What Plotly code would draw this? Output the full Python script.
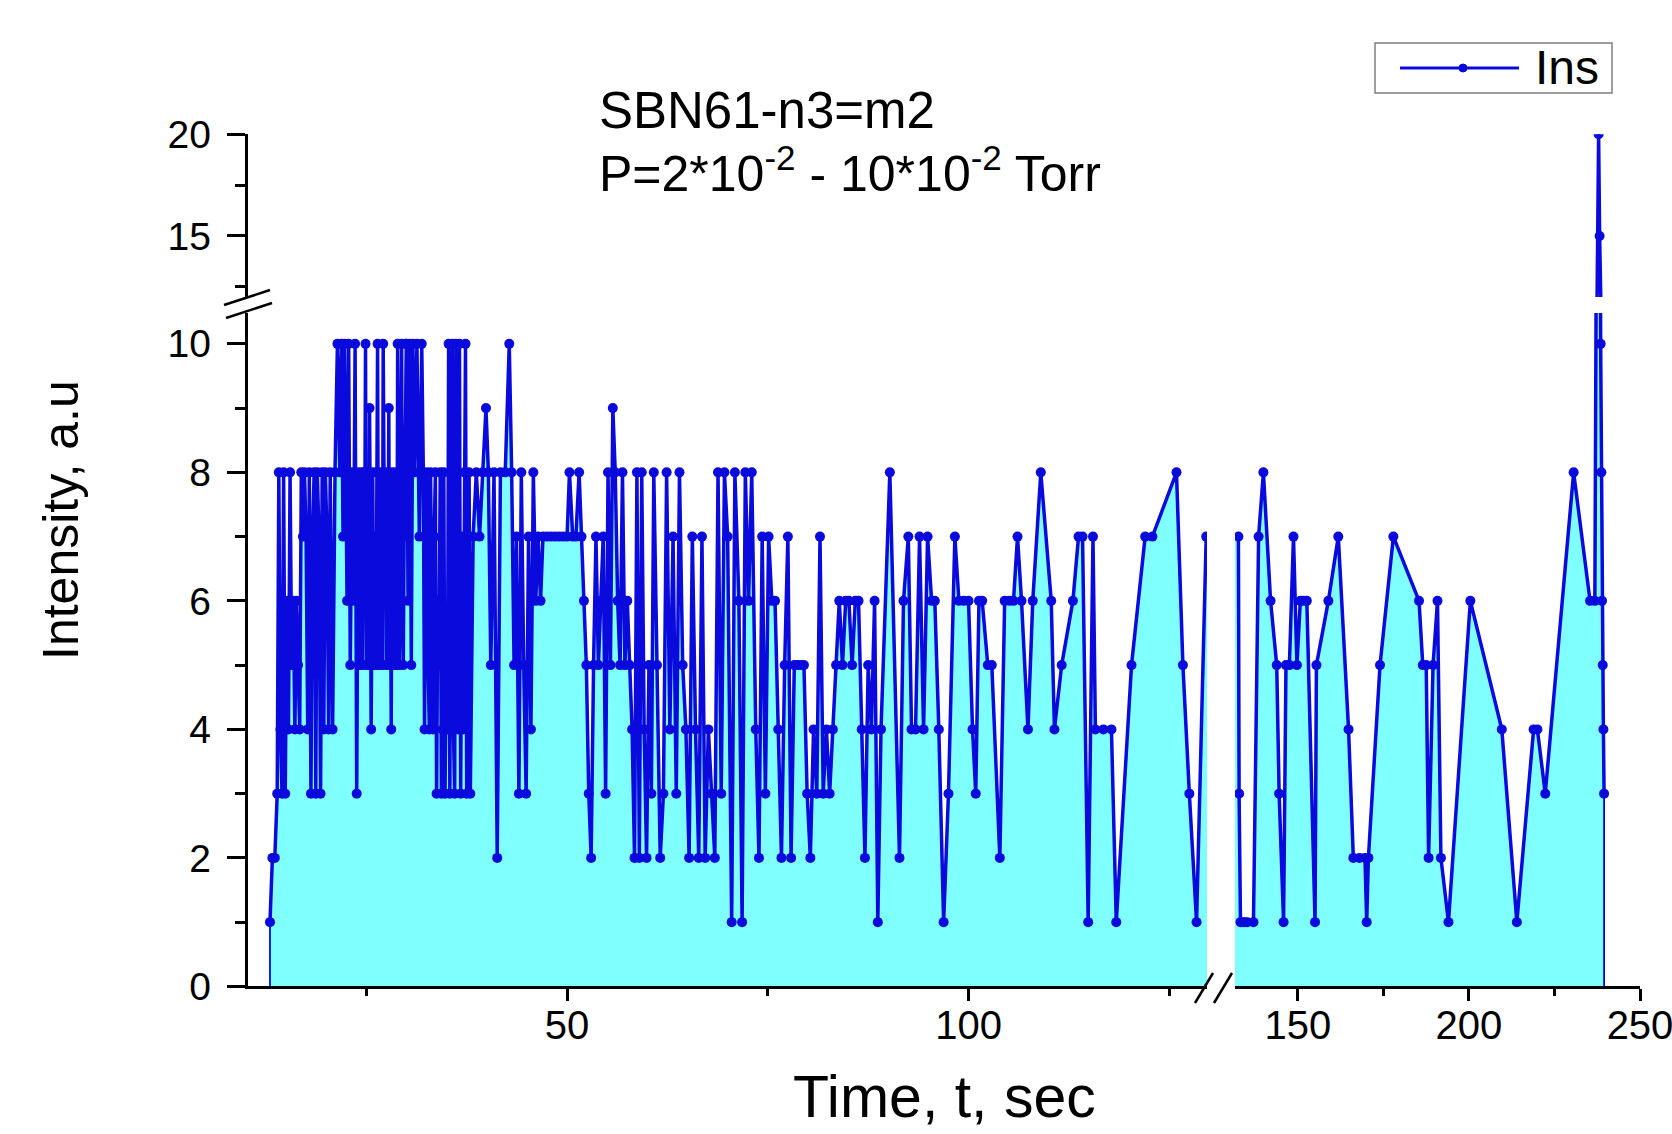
import plotly.graph_objects as go

# ---------------- data ----------------
time_left = [
    13.0, 13.3, 13.6, 13.9, 14.1, 14.3, 14.5, 14.7, 14.9, 15.1, 15.3, 15.5, 15.7, 15.9, 16.1, 16.3,
    16.5, 16.7, 16.9, 17.1, 17.3, 17.5, 17.7, 17.9, 18.1, 18.3, 18.5, 18.7, 18.9, 19.1, 19.3, 19.5,
    19.7, 19.9, 20.1, 20.3, 20.5, 20.8, 21.1, 21.4, 21.7, 21.9, 22.1, 22.3, 22.6, 22.8, 23.0, 23.2,
    23.4, 23.6, 23.8,
    24.0, 24.1, 24.2, 24.3, 24.4, 24.5, 24.6, 24.7, 24.8, 24.9,
    25.0, 25.1, 25.2, 25.3, 25.4, 25.5, 25.6, 25.7, 25.8, 25.9,
    26.0, 26.1, 26.2, 26.3, 26.4, 26.5, 26.6, 26.7, 26.8, 26.9,
    27.0, 27.1, 27.2, 27.3, 27.4, 27.5, 27.6, 27.7, 27.8, 27.9,
    28.0, 28.1, 28.2, 28.3, 28.4, 28.5, 28.6, 28.7, 28.8, 28.9,
    29.0, 29.1, 29.2, 29.3, 29.4, 29.5, 29.6, 29.7, 29.8, 29.9,
    30.0, 30.2, 30.4, 30.6, 30.8, 31.0, 31.3, 31.6, 31.9,
    32.1, 32.25, 32.4, 32.55, 32.7, 32.85, 33.0, 33.15, 33.3, 33.45,
    33.6, 33.75, 33.9, 34.05, 34.2, 34.35, 34.5, 34.65, 34.8, 34.95,
    35.1, 35.25, 35.4, 35.55, 35.7, 35.85, 36.0, 36.15, 36.3, 36.45,
    36.6, 36.75, 36.9, 37.05, 37.2, 37.35, 37.5, 37.65, 37.8, 37.95,
    38.3, 38.7, 39.1, 39.5, 39.9, 40.2, 40.5, 40.9, 41.3, 41.7, 42.3, 42.8, 43.1, 43.4, 43.7, 44.0,
    44.3, 44.6, 44.9, 45.2, 45.5, 45.8, 46.1, 46.4, 46.7, 47.0, 47.5, 48.0, 48.5, 49.0, 49.5,
    50.0, 50.3, 50.7, 51.1, 51.5, 51.8, 52.1, 52.4, 52.7, 53.0, 53.3, 53.6, 53.9, 54.2, 54.5, 54.8,
    55.1, 55.4, 55.7, 56.0, 56.3, 56.6, 56.9, 57.2, 57.5, 57.8, 58.1, 58.4, 58.7, 59.0, 59.3, 59.6,
    59.9, 60.2, 60.5, 60.8, 61.2, 61.6, 62.0, 62.4, 62.8, 63.2, 63.6, 64.0, 64.4, 64.8, 65.2, 65.6,
    66.0, 66.4, 66.8, 67.2, 67.6, 68.0, 68.4, 68.8, 69.2, 69.6,
    70.0, 70.5, 70.9, 71.4, 71.8, 72.2, 72.6, 73.0, 73.5, 73.9, 74.3, 74.7, 75.1, 75.5, 75.9, 76.3,
    76.7, 77.1, 77.5, 77.9, 78.3, 78.7, 79.1, 79.5, 79.9, 80.3, 80.7, 81.1, 81.5, 81.9, 82.3, 82.7,
    83.1, 83.5, 83.9, 84.3, 84.7, 85.1, 85.5, 85.9, 86.3, 86.7, 87.1, 87.5, 87.9, 88.3, 88.7, 89.1,
    90.2, 91.4, 91.9, 92.5, 92.9, 93.4, 93.9, 94.4, 94.9, 95.4, 95.8, 96.3, 96.9, 97.5, 98.3, 98.8,
    99.4, 100.0, 100.5, 100.9, 101.3, 101.7, 102.4, 102.9, 103.9, 104.5, 105.1, 105.6, 106.1, 106.6,
    107.4, 108.0, 109.0,
    110.3, 110.7, 111.6, 113.0, 113.7, 114.2, 114.9, 115.5, 115.8, 116.8, 117.8, 118.4, 120.3, 122.0,
    122.9, 125.9, 126.7, 127.5, 128.4, 129.6,
]
ins_left = [
    1, 2, 2, 3, 8, 4, 3, 8, 3, 6, 4, 8, 5, 6, 4, 6,
    5, 4, 8, 7, 8, 7, 4, 8, 3, 7, 8, 3, 8, 7, 3, 8,
    4, 8, 7, 4, 8, 4, 8, 10, 8, 10, 7, 10, 6, 10, 5, 8,
    6, 10, 3,
    8, 6, 5, 7, 8, 5, 6, 8, 7, 10,
    5, 6, 8, 5, 9, 7, 4, 6, 8, 5,
    6, 7, 5, 8, 10, 6, 5, 7, 8, 6,
    5, 10, 8, 6, 7, 5, 8, 6, 9, 5,
    7, 4, 8, 6, 5, 7, 8, 6, 5, 10,
    7, 5, 6, 8, 10, 6, 5, 7, 8, 10,
    10, 6, 10, 5, 10, 8, 10, 7, 10,
    8, 4, 7, 8, 5, 4, 8, 6, 4, 7,
    8, 3, 6, 5, 8, 3, 4, 8, 3, 5,
    4, 10, 3, 8, 10, 4, 3, 10, 8, 4,
    10, 3, 7, 4, 8, 10, 3, 6, 8, 3,
    7, 8, 7, 8, 9, 8, 5, 8, 2, 8, 8, 10, 8, 5, 7, 3,
    8, 5, 3, 7, 4, 8, 6, 7, 6, 7, 7, 7, 7, 7, 7,
    7, 8, 7, 7, 8, 7, 6, 5, 3, 2, 5, 7, 5, 6, 7, 3,
    8, 5, 9, 8, 6, 5, 8, 5, 6, 5, 4, 2, 8, 2, 8, 4,
    2, 5, 3, 8, 5, 2, 3, 8, 4, 7, 3, 8, 5, 4, 2, 7,
    4, 2, 7, 2, 4, 3, 2, 8, 3, 8,
    7, 1, 8, 6, 1, 8, 6, 8, 4, 2, 7, 3, 7, 6, 6, 4,
    2, 5, 7, 2, 5, 5, 5, 5, 3, 2, 4, 3, 7, 3, 4, 3,
    4, 5, 6, 5, 6, 6, 5, 6, 6, 4, 2, 5, 4, 6, 1, 4,
    8, 2, 6, 7, 4, 4, 7, 4, 7, 6, 6, 4, 1, 3, 7, 6,
    6, 6, 4, 3, 6, 6, 5, 5, 2, 6, 6, 6, 7, 6,
    4, 6, 8,
    6, 4, 5, 6, 7, 7, 1, 7, 4, 4, 4, 1, 5, 7,
    7, 8, 5, 3, 1, 7,
]
time_right = [
    132.6, 132.8, 133.2, 133.8, 134.5, 135.2, 137.0, 138.5, 139.9, 142.0, 143.8, 144.5, 145.8,
    146.5, 147.5, 148.7, 149.7, 150.7, 151.6, 152.6, 155.0, 155.4, 158.9, 161.8, 164.8, 166.2,
    168.0, 169.6, 170.1, 170.6, 174.0, 177.9, 185.4, 186.5, 187.5, 188.2, 189.5, 190.8, 191.8,
    194.0, 200.4, 209.6, 214.0, 218.9, 220.0, 222.3, 230.6, 235.4, 236.8, 237.4, 237.9, 238.2,
    238.5, 238.7, 238.9, 239.1, 239.3, 239.5,
]
ins_right = [
    7, 3, 1, 1, 1, 1, 1, 7, 8, 6, 5, 3, 1,
    5, 5, 7, 5, 6, 6, 6, 1, 5, 6, 7, 4, 2,
    2, 2, 1, 2, 5, 7, 6, 5, 5, 2, 5, 6, 2,
    1, 6, 4, 1, 4, 4, 3, 8, 6, 6, 11, 20, 15,
    10, 8, 6, 5, 4, 3,
]
assert len(time_left) == len(ins_left), (len(time_left), len(ins_left))
assert len(time_right) == len(ins_right), (len(time_right), len(ins_right))

x_ticks_left = [50, 100]
x_minor_left = [25, 75, 125]
x_ticks_right = [150, 200, 250]
x_minor_right = [175, 225]
y_ticks_low = [0, 2, 4, 6, 8, 10]
y_minor_low = [1, 3, 5, 7, 9]
y_ticks_high = [15, 20]
y_minor_high = [12.5, 17.5]

series_name = "Ins"
title_line1 = "SBN61-n3=m2"
title_line2 = "P=2*10<sup>-2</sup> - 10*10<sup>-2</sup> Torr"
x_title = "Time, t, sec"
y_title = "Intensity, a.u"

# ---------------- styling ----------------
W, H = 1672, 1134
BLUE = "#0A0ADC"
FILL = "#80FFFF"
FONT = "Liberation Sans, Arial, sans-serif"


def px(x):
    return x / W


def py(y):
    return 1 - y / H


time_all = time_left + time_right
ins_all = ins_left + ins_right
fill_x = [time_all[0]] + time_all + [time_all[-1]]
fill_y = [0] + ins_all + [0]

fig = go.Figure()
for xa in ("x", "x2"):
    fig.add_trace(go.Scatter(
        x=fill_x, y=fill_y, mode="lines", fill="toself", fillcolor=FILL,
        line=dict(color=BLUE, width=1.8), hoverinfo="skip", showlegend=False,
        xaxis=xa, yaxis="y"))
for xa, ya in (("x", "y"), ("x2", "y"), ("x2", "y2")):
    fig.add_trace(go.Scatter(
        x=time_all, y=ins_all, mode="lines+markers", name=series_name,
        line=dict(color=BLUE, width=3.5), marker=dict(color=BLUE, size=10),
        showlegend=False, xaxis=xa, yaxis=ya))

common = dict(showline=True, linecolor="black", linewidth=2.5, ticks="outside",
              tickcolor="black", tickwidth=2.5, showgrid=False, zeroline=False,
              tickmode="array", automargin=False, ticklabeloverflow="allow")


def minor(vals, ln):
    return dict(tickmode="array", tickvals=vals, ticks="outside", ticklen=ln,
                tickwidth=2.5, tickcolor="black", showgrid=False)


xfont = dict(family=FONT, size=40, color="black")
yfont = dict(family=FONT, size=39, color="black")

fig.update_layout(
    width=W, height=H, margin=dict(l=0, r=0, t=0, b=0, pad=0, autoexpand=False),
    paper_bgcolor="white", plot_bgcolor="white", showlegend=False,
    xaxis=dict(common, domain=[px(247.5), px(1207)], range=[10.2, 129.7], anchor="y",
               tickvals=x_ticks_left, ticklen=12, minor=minor(x_minor_left, 7),
               tickfont=xfont, ticklabelstandoff=-10),
    xaxis2=dict(common, domain=[px(1235), px(1640)], range=[131.6, 250], anchor="y",
                tickvals=x_ticks_right, ticklen=12, minor=minor(x_minor_right, 7),
                tickfont=xfont, ticklabelstandoff=-10),
    yaxis=dict(common, domain=[py(986.4), py(313)], range=[0, 10.48], anchor="x",
               tickvals=y_ticks_low, ticklen=18, minor=minor(y_minor_low, 10),
               tickfont=yfont, ticklabelstandoff=8),
    yaxis2=dict(common, domain=[py(297), py(134.3)], range=[12.0, 20], anchor="x",
                tickvals=y_ticks_high, ticklen=18, minor=minor(y_minor_high, 10),
                tickfont=yfont, ticklabelstandoff=8),
)

shapes = []
# axis break marks
for (x0, y0, x1, y1) in [(224, 305, 270, 290), (226, 318, 272, 303),
                         (1195, 1003, 1213, 973), (1214, 1003, 1232, 973)]:
    shapes.append(dict(type="line", xref="paper", yref="paper",
                       x0=px(x0), y0=py(y0), x1=px(x1), y1=py(y1),
                       line=dict(color="black", width=2.5)))
# legend box
shapes.append(dict(type="rect", xref="paper", yref="paper",
                   x0=px(1375), y0=py(93), x1=px(1612), y1=py(43),
                   line=dict(color="#7f7f7f", width=1.5), fillcolor="white"))
shapes.append(dict(type="line", xref="paper", yref="paper",
                   x0=px(1400), y0=py(68), x1=px(1519), y1=py(68),
                   line=dict(color=BLUE, width=3)))
shapes.append(dict(type="circle", xref="paper", yref="paper",
                   x0=px(1459), y0=py(72), x1=px(1467), y1=py(64),
                   line=dict(color=BLUE, width=1), fillcolor=BLUE))
fig.update_layout(shapes=shapes)

annotations = [
    dict(text=series_name, x=px(1533), y=py(67), xanchor="left", yanchor="middle",
         font=dict(family=FONT, size=48, color="black")),
    dict(text=title_line1, x=px(597), y=py(110), xanchor="left", yanchor="middle",
         font=dict(family=FONT, size=51, color="black")),
    dict(text=title_line2, x=px(597), y=py(170), xanchor="left", yanchor="middle",
         font=dict(family=FONT, size=50, color="black")),
    dict(text=x_title, x=px(945), y=py(1097), xanchor="center", yanchor="middle",
         font=dict(family=FONT, size=59, color="black")),
    dict(text=y_title, x=px(61), y=py(520), xanchor="center", yanchor="middle",
         textangle=-90, font=dict(family=FONT, size=50, color="black")),
]
for a in annotations:
    a.update(xref="paper", yref="paper", showarrow=False)
fig.update_layout(annotations=annotations)

fig.write_html("out.html", config={"displayModeBar": False},
               post_script="document.body.style.margin='0';document.body.style.overflow='hidden';")
